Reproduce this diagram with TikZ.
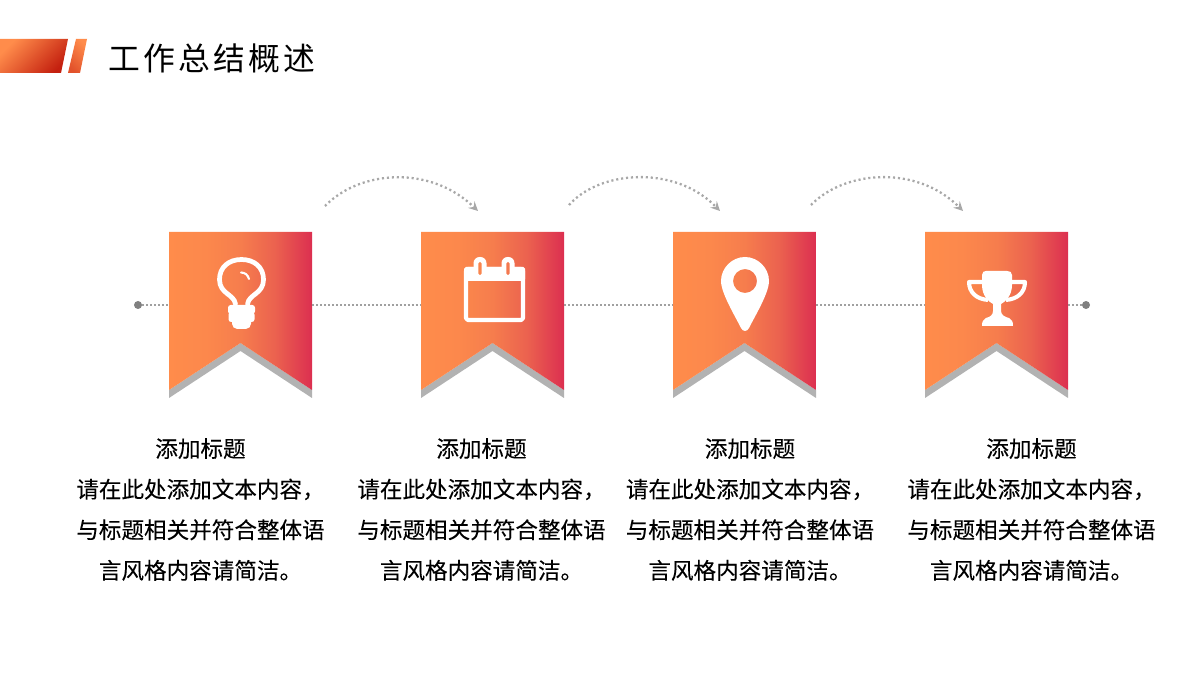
\documentclass[tikz,border=0pt]{standalone}
\usepackage{fontspec}
\setmainfont[FakeBold=0.12]{Noto Sans CJK SC}
\newfontfamily\titlefont[LetterSpace=10]{Noto Sans CJK SC}
\usetikzlibrary{arrows}
\definecolor{flagA}{HTML}{FF8C4B}
\definecolor{flagE}{HTML}{FC884C}
\definecolor{flagB}{HTML}{F67D4D}
\definecolor{flagD}{HTML}{EB624F}
\definecolor{flagC}{HTML}{DC2F50}
\definecolor{flagGray}{HTML}{B2B2B2}
\definecolor{lineGray}{HTML}{808080}
\definecolor{dotGray}{HTML}{A0A0A0}
\definecolor{arcGray}{HTML}{A8A8A8}
\definecolor{barD}{HTML}{C4200F}
\definecolor{barE}{HTML}{E2522B}
\definecolor{slitA}{HTML}{F9854D}
\definecolor{slitB}{HTML}{F4784F}
\pgfdeclarehorizontalshading{flagfade}{100bp}{color(0bp)=(flagA); color(25bp)=(flagA); color(38bp)=(flagE); color(50bp)=(flagB); color(62bp)=(flagD); color(75bp)=(flagC); color(100bp)=(flagC)}
\tikzset{
	flagbody/.style={shading=flagfade},
	flagedge/.style={fill=flagGray},
	anchorbox/.style={minimum width=2.86cm, minimum height=2.92cm, inner sep=0pt},
	enddot/.style={circle, fill=lineGray, minimum size=0.16cm, inner sep=0pt},
	midline/.style={dotGray, line width=1.13pt, dash pattern=on 1.13pt off 1.13pt},
	hoparc/.style={arcGray, line width=1.3pt, dash pattern=on 1.2pt off 1.62pt, ->},
	caption/.style={align=center, font=\fontsize{12.85pt}{23.1pt}\selectfont, text=black, inner sep=0pt},
	iconline/.style={white, line width=2.7pt, line cap=round, line join=round},
	iconfill/.style={fill=white}
}
\begin{document}
\begin{tikzpicture}[x=0.02cm, y=-0.02cm, line join=round, >=stealth]
	\useasboundingbox (0,0) rectangle (1200,675);
	\def\yl{305}
	% top bar
	\shade[left color=flagA, middle color=flagA, right color=barD, shading angle=45] (0,39)--(68,39)--(61,73)--(0,73)--cycle;
	\shade[left color=flagA, right color=barE, shading angle=-45] (76,39)--(87,39)--(80,73)--(68,73)--cycle;
	\node (title) at (212,58) [text=black, inner sep=0pt, font=\titlefont\fontsize{18.1pt}{20pt}\selectfont] {工作总结概述};
	% dotted line, end points and flags
	\node (dotL) at (138,\yl) [enddot] {};
	\node (dotR) at (1086,\yl) [enddot] {};
	\foreach \n/\fx in {1/240.5, 2/492.5, 3/744.5, 4/996.5} {
		\node (flag\n) at (\fx,\yl) [anchorbox] {};
		\begin{scope}[shift={(\fx,\yl)}]
			\fill[flagedge] (-71.5,85)--(0,38)--(71.5,85)--(71.5,93)--(0,46)--(-71.5,93)--cycle;
			\shade[flagbody] (-71.5,-73)--(71.5,-73)--(71.5,85)--(0,38)--(-71.5,85)--cycle;
		\end{scope}
	}
	\draw[midline] (dotL)--(flag1);
	\draw[midline] (flag1)--(flag2);
	\draw[midline] (flag2)--(flag3);
	\draw[midline] (flag3)--(flag4);
	\draw[midline] (flag4)--(dotR);
	% arcs
	\coordinate (arcA1) at (325,206); \coordinate (arcB1) at (478,211);
	\coordinate (arcA2) at (569,205); \coordinate (arcB2) at (720,211);
	\coordinate (arcA3) at (811,205); \coordinate (arcB3) at (963,211);
	\draw[hoparc] (arcA1) .. controls (360,170) and (430,165) .. (arcB1);
	\draw[hoparc] (arcA2) .. controls (600,170) and (675,165) .. (arcB2);
	\draw[hoparc] (arcA3) .. controls (845,170) and (917,165) .. (arcB3);
	% bulb
	\draw[iconline] (235.5,304) .. controls (234,294) and (219.5,294) .. (219.5,279.5) .. controls (219.5,267) and (229,259.5) .. (241.5,259.5) .. controls (254,259.5) and (263.5,267) .. (263.5,279.5) .. controls (263.5,294) and (249,294) .. (247.5,304);
	\draw[iconline, line width=1.2pt] (241,272.5) .. controls (245,272.5) and (248,275) .. (249,279);
	\fill[iconfill, rounded corners=1.5pt] (228,305) rectangle (255,314);
	\fill[iconfill, rounded corners=1.5pt] (228.5,312) rectangle (254.5,322);
	\fill[iconfill, rounded corners=3pt] (232,314) rectangle (251,329);
	% calendar
	\draw[iconline, line width=2.3pt, rounded corners=1pt] (466,269) rectangle (523,320);
	\fill[iconfill, rounded corners=1pt] (464,267) rectangle (525,281);
	\fill[iconfill, rounded corners=3.5pt] (473.5,257) rectangle (486.5,276);
	\fill[iconfill, rounded corners=3.5pt] (501.5,257) rectangle (514.5,276);
	\fill[slitA, rounded corners=0.9pt] (478.3,262) rectangle (481.7,275);
	\fill[slitB, rounded corners=0.9pt] (506.3,262) rectangle (509.7,275);
	% pin
	\fill[iconfill, even odd rule] (745,257) .. controls (758,257) and (769,268) .. (769,281) .. controls (769,293) and (755,316) .. (749,328) .. controls (747,332) and (743,332) .. (741,328) .. controls (735,316) and (721,293) .. (721,281) .. controls (721,268) and (732,257) .. (745,257) -- cycle (745,281) circle (12);
	% trophy
	\draw[iconline, line width=2.3pt, line cap=butt] (984,282)--(969,282) .. controls (969,292) and (976,299) .. (988,300);
	\draw[iconline, line width=2.3pt, line cap=butt] (1009,282)--(1025,282) .. controls (1025,292) and (1018,299) .. (1006,300);
	\fill[iconfill] (986,271) -- (1007,271) .. controls (1010,271) and (1012,272) .. (1012,275) -- (1012,285) .. controls (1012,296) and (1005,302) .. (1001,304) -- (1001,311) .. controls (1001,315) and (1005,317) .. (1009,318) .. controls (1012,319) and (1013,322) .. (1013,326) -- (982,326) .. controls (982,322) and (983,319) .. (986,318) .. controls (990,317) and (993,315) .. (993,311) -- (993,304) .. controls (989,302) and (982,296) .. (982,285) -- (982,275) .. controls (982,272) and (984,271) .. (986,271) -- cycle;
	% captions
	\foreach \n/\tx in {1/200.5, 2/481.5, 3/750, 4/1031.5} {
		\node (text\n) at (\tx,509.5) [caption] {添加标题\\请在此处添加文本内容，\\与标题相关并符合整体语\\言风格内容请简洁。};
	}
\end{tikzpicture}
\end{document}
